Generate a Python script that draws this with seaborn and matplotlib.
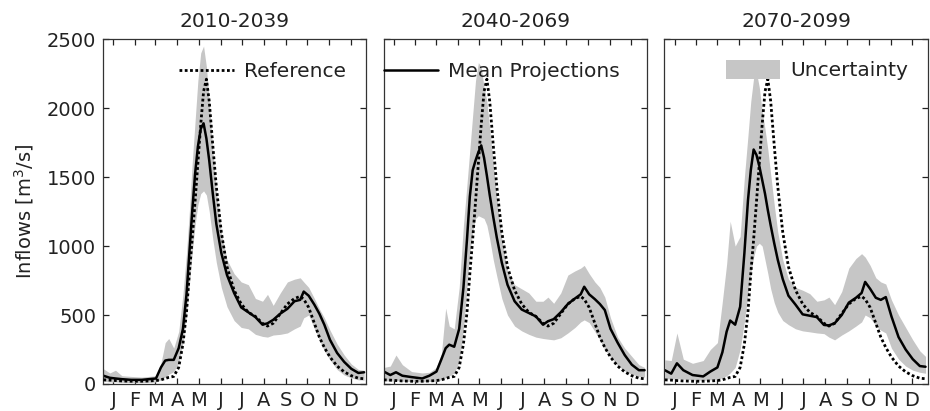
import numpy as np
import pandas as pd
import seaborn as sns
import matplotlib.pyplot as plt
from matplotlib.lines import Line2D
from matplotlib.patches import Patch

days = [1, 10, 18, 27, 40, 55, 65, 75, 82, 88, 93, 100, 107, 113, 118, 122, 126, 130,
        134, 138, 142, 146, 150, 155, 160, 167, 175, 185, 195, 205, 215, 225, 232, 240,
        250, 260, 270, 278, 283, 290, 298, 305, 312, 320, 330, 340, 350, 360, 368]

# observed reference regime (same in every panel)
reference = [30, 28, 25, 22, 20, 20, 22, 25, 30, 40, 48, 55, 120, 290, 520, 800, 1050, 1320,
             1600, 1880, 2120, 2210, 2050, 1730, 1430, 1100, 850, 680, 580, 520, 490, 440, 420, 440,
             510, 580, 620, 635, 615, 555, 440, 340, 265, 195, 130, 88, 60, 42, 38]

periods = ["2010-2039", "2040-2069", "2070-2099"]

mean_2010 = [60, 45, 40, 35, 30, 30, 35, 40, 120, 170, 175, 175, 260, 400, 650, 950, 1250, 1520,
             1720, 1850, 1890, 1780, 1620, 1380, 1160, 950, 790, 660, 555, 520, 485, 430, 440, 465,
             510, 545, 600, 610, 670, 640, 575, 510, 430, 320, 225, 160, 110, 80, 85]
upper_2010 = [110, 80, 100, 60, 55, 50, 55, 60, 150, 300, 330, 260, 380, 650, 950, 1250, 1600, 1900,
              2200, 2400, 2450, 2300, 2050, 1700, 1400, 1100, 900, 800, 740, 720, 620, 600, 650, 570,
              660, 740, 760, 770, 740, 700, 620, 545, 480, 390, 290, 210, 145, 105, 100]
lower_2010 = [20, 15, 15, 12, 10, 10, 12, 15, 30, 50, 70, 90, 150, 300, 500, 720, 950, 1150,
              1300, 1380, 1400, 1370, 1250, 1050, 880, 700, 560, 460, 410, 400, 360, 345, 340, 355,
              360, 370, 400, 420, 480, 500, 400, 320, 240, 175, 105, 65, 45, 30, 28]

mean_2040 = [90, 65, 85, 60, 50, 40, 60, 90, 180, 260, 285, 270, 400, 700, 1050, 1360, 1550, 1620,
             1680, 1730, 1640, 1510, 1370, 1210, 1060, 880, 720, 600, 540, 515, 490, 430, 455, 470,
             520, 580, 620, 650, 705, 650, 615, 580, 536, 400, 300, 210, 140, 100, 100]
upper_2040 = [120, 130, 210, 140, 90, 80, 85, 120, 220, 550, 420, 400, 700, 1150, 1450, 1700, 1950, 2200,
              2330, 2300, 2150, 2050, 1850, 1600, 1350, 1050, 820, 720, 690, 660, 600, 600, 630, 585,
              660, 790, 820, 840, 860, 800, 740, 700, 630, 480, 340, 260, 200, 140, 120]
lower_2040 = [25, 20, 25, 20, 18, 15, 18, 20, 30, 45, 60, 80, 160, 400, 700, 950, 1100, 1200,
              1220, 1210, 1200, 1150, 1050, 900, 780, 620, 500, 420, 385, 360, 340, 330, 325, 320,
              335, 370, 410, 450, 465, 445, 380, 320, 250, 195, 135, 95, 70, 55, 50]

mean_2070 = [100, 75, 150, 100, 65, 55, 90, 120, 230, 380, 460, 430, 560, 950, 1330, 1550, 1700, 1660,
             1580, 1480, 1380, 1260, 1150, 1020, 900, 760, 640, 575, 505, 495, 485, 428, 425, 440,
             500, 590, 625, 660, 740, 690, 625, 610, 630, 490, 340, 250, 180, 130, 125]
upper_2070 = [175, 170, 370, 180, 150, 170, 250, 300, 600, 870, 1180, 1000, 1070, 1500, 1800, 2050, 2220, 2260,
              2150, 1980, 1850, 1700, 1520, 1300, 1100, 900, 760, 700, 680, 655, 600, 610, 630, 575,
              670, 840, 910, 945, 920, 860, 770, 740, 725, 610, 500, 410, 320, 240, 200]
lower_2070 = [40, 35, 40, 35, 30, 28, 30, 35, 45, 60, 80, 120, 250, 450, 650, 800, 920, 1000,
              1020, 1000, 900, 800, 690, 590, 520, 460, 430, 400, 385, 378, 370, 365, 340, 320,
              355, 385, 420, 450, 500, 480, 420, 390, 370, 260, 180, 130, 100, 85, 78]

means = [mean_2010, mean_2040, mean_2070]
uppers = [upper_2010, upper_2040, upper_2070]
lowers = [lower_2010, lower_2040, lower_2070]

month_days = [15, 45, 74, 105, 135, 166, 196, 227, 258, 288, 319, 349]
month_labels = ["J", "F", "M", "A", "M", "J", "J", "A", "S", "O", "N", "D"]

sns.set_style("ticks")
plt.rcParams["font.family"] = ["DejaVu Sans"]
plt.rcParams["text.color"] = "#222222"
plt.rcParams["axes.labelcolor"] = "#222222"
plt.rcParams["xtick.color"] = "#222222"
plt.rcParams["ytick.color"] = "#222222"

band_color = "#c6c6c6"
dots = (0, (1, 0.9))

fig = plt.figure(figsize=(9.3, 4.11), dpi=100)
lefts = [0.1108, 0.4124, 0.7145]
axes = [fig.add_axes([l, 0.0657, 0.2830, 0.839]) for l in lefts]

for i, ax in enumerate(axes):
    df = pd.DataFrame({"day": days, "ref": reference, "mean": means[i],
                       "lo": lowers[i], "hi": uppers[i]})
    ax.fill_between(df["day"], df["lo"], df["hi"], color=band_color, lw=0, zorder=1)
    sns.lineplot(data=df, x="day", y="ref", ax=ax, color="black", lw=2.0,
                 linestyle=dots, zorder=3)
    sns.lineplot(data=df, x="day", y="mean", ax=ax, color="black", lw=1.8, zorder=2)

    ax.set_xlim(0.5, 371)
    ax.set_ylim(0, 2500)
    ax.set_xticks(month_days)
    ax.set_xticklabels(month_labels, fontsize=14)
    ax.set_yticks([0, 500, 1000, 1500, 2000, 2500])
    ax.tick_params(direction="in", length=4, width=0.9, top=True, right=True,
                   labelsize=14, pad=5)
    ax.set_xlabel("")
    ax.set_ylabel("")
    ax.set_title(periods[i], fontsize=14.5, pad=9)
    for s in ax.spines.values():
        s.set_linewidth(0.9)
        s.set_color("#333333")
    if i > 0:
        ax.set_yticklabels([])

axes[0].set_ylabel("Inflows [m$^3$/s]", fontsize=14, labelpad=8)

leg_kw = dict(loc="center left", frameon=False, fontsize=14.5, borderpad=0,
              borderaxespad=0, handletextpad=0.5, handlelength=2.7)
axes[0].legend(handles=[Line2D([], [], color="black", lw=2.0, linestyle=dots)],
               labels=["Reference"], bbox_to_anchor=(0.29, 0.905), **leg_kw)
axes[1].legend(handles=[Line2D([], [], color="black", lw=1.8)],
               labels=["Mean Projections"], bbox_to_anchor=(0.0, 0.905), **leg_kw)
axes[2].legend(handles=[Patch(color=band_color, lw=0)], labels=["Uncertainty"],
               bbox_to_anchor=(0.234, 0.91), handleheight=1.1, **leg_kw)

fig.savefig("out.png", dpi=100)
